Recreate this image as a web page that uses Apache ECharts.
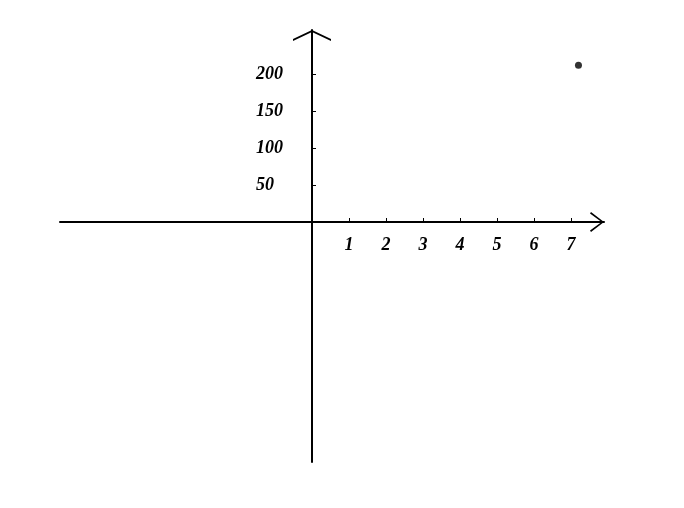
<!DOCTYPE html>
<html>
<head>
<meta charset="utf-8">
<script src="https://cdn.jsdelivr.net/npm/echarts@6/dist/echarts.min.js"></script>
<style>
  html, body { margin: 0; padding: 0; background: #fff; }
  #chart { width: 684px; height: 508px; }
</style>
</head>
<body>
<div id="chart"></div>
<script>
  // ticks and labels on each axis
  var xTicks = [1, 2, 3, 4, 5, 6, 7];
  var yTicks = [50, 100, 150, 200];
  // the one plotted point
  var points = [[7.2, 212]];

  // open chevron heads for the axis ends (drawn pointing up)
  var headY = "path://M0,9 L19,0 L38,9 L38,11 L19,2 L0,11 Z";
  var headX = "path://M0,13 L10,0 L20,13 L18.6,14 L10,2.4 L1.4,14 Z";

  var labelFont = {
    color: "#000",
    fontFamily: "Liberation Serif",
    fontStyle: "italic",
    fontWeight: "bold",
    fontSize: 18
  };

  var myChart = echarts.init(document.getElementById("chart"));
  var option = {
    animation: false,
    backgroundColor: "#fff",
    grid: { left: 60, right: 80, top: 30, bottom: 46 },
    xAxis: {
      type: "value",
      min: -6.81,
      max: 7.89,
      position: "bottom",
      offset: -240, // puts the axis through y = 0
      axisLine: {
        onZero: false,
        symbol: ["none", headX],
        symbolSize: [20, 14],
        symbolOffset: [0, -7],
        lineStyle: { color: "#000", width: 2 }
      },
      axisTick: {
        show: true,
        inside: true,
        length: 4,
        customValues: xTicks,
        lineStyle: { color: "#000", width: 1 }
      },
      axisLabel: Object.assign({
        customValues: xTicks,
        margin: 14
      }, labelFont),
      splitLine: { show: false }
    },
    yAxis: {
      type: "value",
      min: -324.3,
      max: 259.5,
      position: "left",
      offset: -252, // puts the axis through x = 0
      axisLine: {
        show: true,
        onZero: false,
        symbol: ["none", headY],
        symbolSize: [38, 11],
        symbolOffset: [0, -5.5],
        lineStyle: { color: "#000", width: 2 }
      },
      axisTick: {
        show: true,
        inside: true,
        length: 4,
        customValues: yTicks,
        lineStyle: { color: "#000", width: 1 }
      },
      axisLabel: Object.assign({
        customValues: yTicks,
        align: "left",
        margin: 56
      }, labelFont),
      splitLine: { show: false }
    },
    series: [
      {
        type: "scatter",
        data: points,
        symbol: "circle",
        symbolSize: 7,
        itemStyle: { color: "#000" }
      }
    ]
  };
  myChart.setOption(option);
  window.addEventListener("resize", function() {
    myChart.resize();
  });
</script>
</body>
</html>
